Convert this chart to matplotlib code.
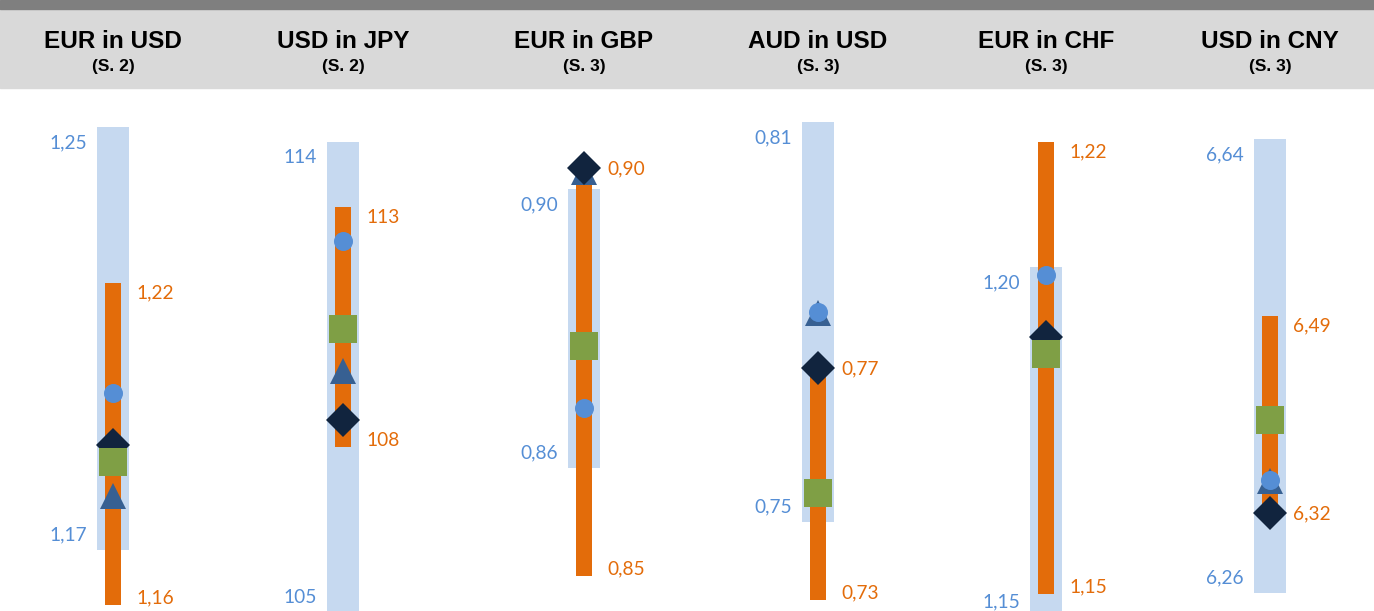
import matplotlib
matplotlib.use("Agg")
import matplotlib.pyplot as plt
from matplotlib.patches import Rectangle

# panel titles
titles = ["EUR in USD", "USD in JPY", "EUR in GBP", "AUD in USD", "EUR in CHF", "USD in CNY"]
subtitles = ["(S. 2)", "(S. 2)", "(S. 3)", "(S. 3)", "(S. 3)", "(S. 3)"]
decimals = [2, 0, 2, 2, 2, 2]

# light blue range (low, high)
blue_lo = [1.170, 105.0, 0.8623, 0.746, 1.1464, 6.2601]
blue_hi = [1.250, 114.0, 0.8995, 0.814, 1.2006, 6.640]
# orange range (low, high)
orange_lo = [1.1596, 108.16, 0.8479, 0.7327, 1.150, 6.3203]
orange_hi = [1.2205, 112.75, 0.9035, 0.7737, 1.220, 6.492]
# markers
circle = [1.1997, 112.1, 0.8703, 0.7817, 1.1994, 6.3546]
triangle = [1.1803, 109.61, 0.9018, 0.7815, 1.1900, 6.354]
square = [1.1867, 110.42, 0.8786, 0.7509, 1.1872, 6.405]
diamond = [1.1899, 108.67, 0.9023, 0.7722, 1.1898, 6.327]

# per panel value window (layout)
ylims = [(1.1585, 1.2561), (105.02, 114.90), (0.84323, 0.91203),
         (0.73087, 0.81859), (1.14737, 1.22728), (6.2450, 6.6768)]
centers_px = [113, 343, 584, 818, 1046, 1270]

W, H = 1374, 611
c_blue = "#C6D9F0"
c_orange = "#E36C0A"
c_lbl_blue = "#558ED5"

fig = plt.figure(figsize=(W / 100, H / 100), dpi=100)

# header bands
fig.patches.append(Rectangle((0, 1 - 88 / H), 1, 79 / H, transform=fig.transFigure,
                             color="#D9D9D9", zorder=0))
fig.patches.append(Rectangle((0, 1 - 9 / H), 1, 9 / H, transform=fig.transFigure,
                             color="#7F7F7F", zorder=0))

def fmt(v, d):
    return f"{v:.{d}f}".replace(".", ",")

for i in range(6):
    cx = centers_px[i]
    ax = fig.add_axes([(cx - 100) / W, 0, 200 / W, 516 / H])
    ax.set_xlim(-1, 1)
    ax.set_ylim(*ylims[i])
    ax.axis("off")

    ax.bar(0, blue_hi[i] - blue_lo[i], bottom=blue_lo[i], width=0.32, color=c_blue, zorder=1)
    ax.bar(0, orange_hi[i] - orange_lo[i], bottom=orange_lo[i], width=0.16, color=c_orange, zorder=2)

    ax.plot(0, triangle[i], marker="^", ms=18.7, color="#376092", mew=0, zorder=3)
    ax.plot(0, diamond[i], marker="D", ms=17.3, color="#11243E", mew=0, zorder=4)
    ax.plot(0, square[i], marker="s", ms=20.2, color="#7F9F45", mew=0, zorder=5)
    ax.plot(0, circle[i], marker="o", ms=13.7, color="#558ED5", mew=0, zorder=6)

    d = decimals[i]
    lab = dict(fontsize=13.8, family="Lato", textcoords="offset points", annotation_clip=False)
    ax.annotate(fmt(blue_hi[i], d), (0, blue_hi[i]), xytext=(-18.7, -11.5), ha="right", va="center",
                color=c_lbl_blue, **lab)
    ax.annotate(fmt(blue_lo[i], d), (0, blue_lo[i]), xytext=(-18.7, 10.8), ha="right", va="center",
                color=c_lbl_blue, **lab)
    ax.annotate(fmt(orange_hi[i], d), (0, orange_hi[i]), xytext=(16.6, -7.2), ha="left", va="center",
                color=c_orange, **lab)
    ax.annotate(fmt(orange_lo[i], d), (0, orange_lo[i]), xytext=(16.6, 5.0), ha="left", va="center",
                color=c_orange, **lab)

    fig.text(cx / W, 1 - 41 / H, titles[i], ha="center", va="center", fontsize=17.5,
             fontweight="bold", family="Liberation Sans")
    fig.text(cx / W, 1 - 67 / H, subtitles[i], ha="center", va="center", fontsize=12.5,
             fontweight="bold", family="Liberation Sans")

fig.savefig("out.png", dpi=100)
